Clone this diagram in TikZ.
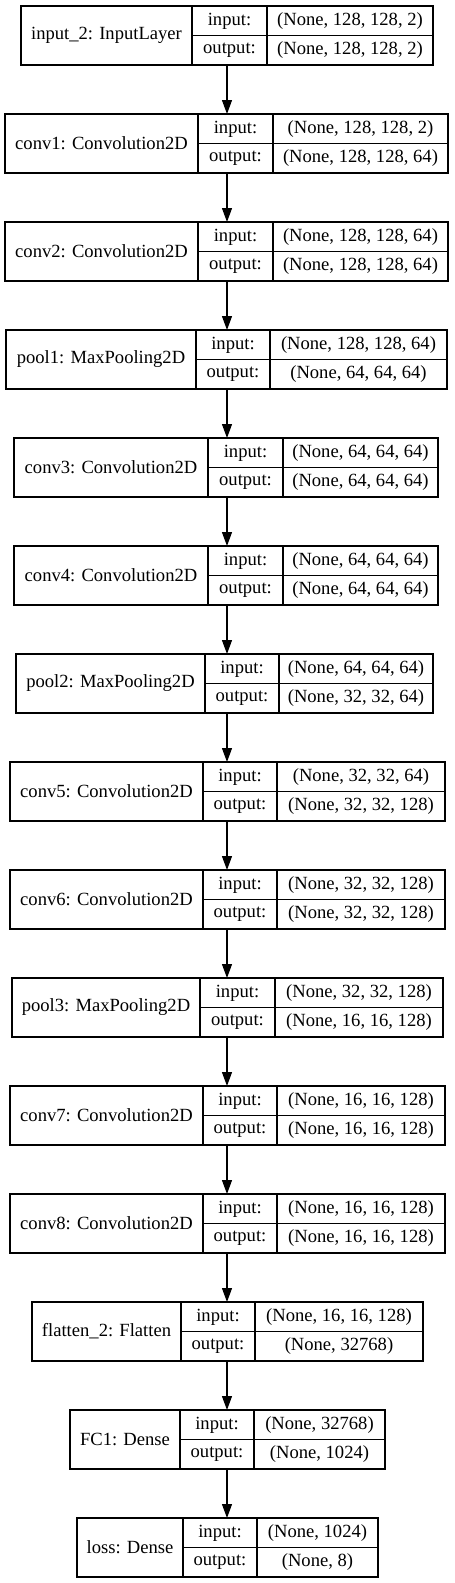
\documentclass[tikz,border=0pt]{standalone}
\usepackage{fontspec}
\setmainfont{Liberation Serif}
\usetikzlibrary{arrows.meta}
\tikzset{
  box/.style={draw, line width=1.3pt, minimum height=59pt, inner sep=0pt, outer sep=0pt},
  div/.style={line width=1.1pt},
  txt/.style={inner sep=0pt, font=\fontsize{18.6}{20}\selectfont},
  arr/.style={line width=1.2pt, -{Triangle[length=14pt,width=10pt]}}
}
% #1 name, #2 top, #3 left, #4 divider1, #5 divider2, #6 right, #7 label, #8 in, #9 out
\newcommand\kLayer[9]{%
  \node[box, minimum width={#6-#3}, anchor=north west] (#1) at (#3,#2) {};
  \draw[div] (#4,#2) -- (#4,#2+59);
  \draw[div] (#5,#2) -- (#5,#2+59);
  \draw[div] (#4,#2+29.5) -- (#6,#2+29.5);
  \node[txt] (#1-lab) at ({(#3+#4)/2},{#2+29.5}) {#7};
  \node[txt] (#1-ik) at ({(#4+#5)/2},{#2+15}) {input:};
  \node[txt] (#1-ok) at ({(#4+#5)/2},{#2+44.5}) {output:};
  \node[txt] (#1-iv) at ({(#5+#6)/2},{#2+15}) {#8};
  \node[txt] (#1-ov) at ({(#5+#6)/2},{#2+44.5}) {#9};
}
\begin{document}
\begin{tikzpicture}[x=1pt,y=-1pt]
\useasboundingbox (0,0) rectangle (455,1583);
\coordinate (ax) at (227,0);
\kLayer{L1}{6}{21}{192}{267}{433}{input\_2: InputLayer}{(None, 128, 128, 2)}{(None, 128, 128, 2)}
\kLayer{L2}{114}{5}{198}{273}{448}{conv1: Convolution2D}{(None, 128, 128, 2)}{(None, 128, 128, 64)}
\kLayer{L3}{222}{5}{198}{273}{448}{conv2: Convolution2D}{(None, 128, 128, 64)}{(None, 128, 128, 64)}
\kLayer{L4}{330}{6}{196}{270}{447}{pool1: MaxPooling2D}{(None, 128, 128, 64)}{(None, 64, 64, 64)}
\kLayer{L5}{438}{14}{208}{283}{438}{conv3: Convolution2D}{(None, 64, 64, 64)}{(None, 64, 64, 64)}
\kLayer{L6}{546}{14}{208}{283}{438}{conv4: Convolution2D}{(None, 64, 64, 64)}{(None, 64, 64, 64)}
\kLayer{L7}{654}{16}{205}{279}{433}{pool2: MaxPooling2D}{(None, 64, 64, 64)}{(None, 32, 32, 64)}
\kLayer{L8}{762}{10}{203}{277}{445}{conv5: Convolution2D}{(None, 32, 32, 64)}{(None, 32, 32, 128)}
\kLayer{L9}{870}{10}{203}{277}{445}{conv6: Convolution2D}{(None, 32, 32, 128)}{(None, 32, 32, 128)}
\kLayer{L10}{978}{12}{200}{275}{443}{pool3: MaxPooling2D}{(None, 32, 32, 128)}{(None, 16, 16, 128)}
\kLayer{L11}{1086}{10}{203}{277}{445}{conv7: Convolution2D}{(None, 16, 16, 128)}{(None, 16, 16, 128)}
\kLayer{L12}{1194}{10}{203}{277}{445}{conv8: Convolution2D}{(None, 16, 16, 128)}{(None, 16, 16, 128)}
\kLayer{L13}{1302}{32}{181}{255}{423}{flatten\_2: Flatten}{(None, 16, 16, 128)}{(None, 32768)}
\kLayer{L14}{1410}{70}{180}{254}{385}{FC1: Dense}{(None, 32768)}{(None, 1024)}
\kLayer{L15}{1518}{77}{183}{257}{378}{loss: Dense}{(None, 1024)}{(None, 8)}
\foreach \a/\b in {L1/L2,L2/L3,L3/L4,L4/L5,L5/L6,L6/L7,L7/L8,L8/L9,L9/L10,L10/L11,L11/L12,L12/L13,L13/L14,L14/L15}
  \draw[arr] (\a.south -| ax) -- (\b.north -| ax);
\end{tikzpicture}
\end{document}
